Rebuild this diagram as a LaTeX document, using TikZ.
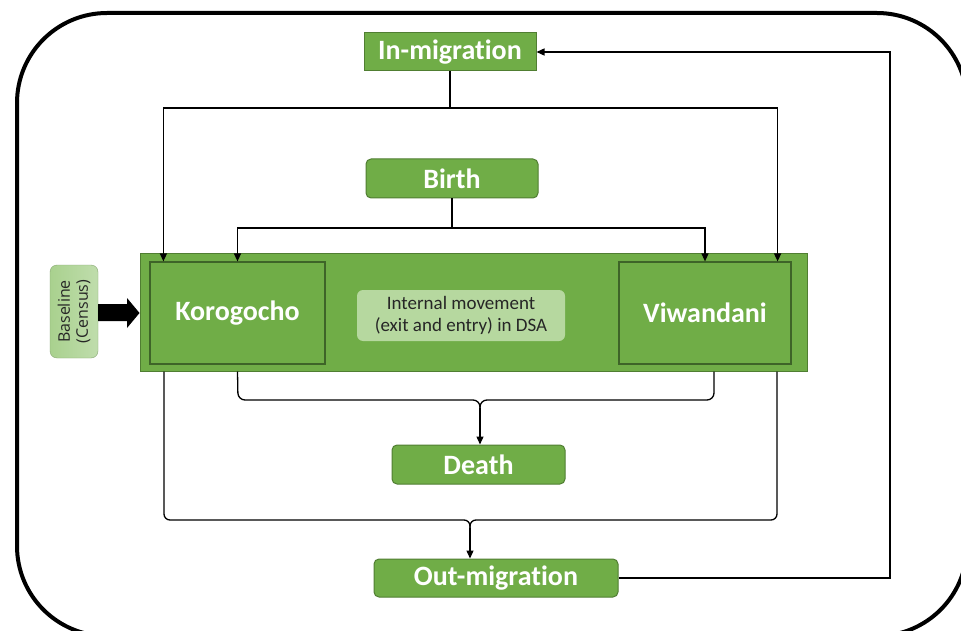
\documentclass[tikz,border=0pt]{standalone}
\usepackage{fontspec}
\setmainfont{Carlito}[Ligatures=NoCommon]
\newfontfamily\basefont{Open Sans}
\usetikzlibrary{arrows.meta,positioning,calc}
\definecolor{ogreen}{HTML}{70AD47}
\definecolor{dgreen}{HTML}{507E32}
\definecolor{ddgreen}{HTML}{3E6428}
\definecolor{lgreen}{HTML}{A9D18E}
\definecolor{llgreen}{HTML}{C5E0B4}
\tikzset{
  gbox/.style={draw=dgreen, line width=1pt, fill=ogreen, text=white, font=\bfseries\fontsize{28}{30}\selectfont, inner sep=0pt},
  rbox/.style={gbox, rounded corners=5pt},
  inbox/.style={draw=ddgreen, line width=1.2pt, fill=ogreen, text=white, font=\bfseries\fontsize{28}{30}\selectfont, inner sep=0pt},
  conn/.style={line width=1.3pt, black},
  arr/.style={conn, -{Triangle[width=7pt,length=8pt]}},
}
\begin{document}
\begin{tikzpicture}[x=1pt,y=-1pt]
\useasboundingbox (0,0) rectangle (961,631);
\clip (0,0) rectangle (961,631);
\fill[white] (0,0) rectangle (961,631);
% outer frame
\draw[line width=4pt, rounded corners=90pt] (17,13) rectangle (967,636);

% nodes
\node[gbox, minimum width=172pt, minimum height=38pt] (inm) at (450,52) {In-migration};
\node[rbox, minimum width=172pt, minimum height=39pt] (birth) at (452,178.5) {Birth};
\node[draw=dgreen, line width=1pt, fill=ogreen, minimum width=667pt, minimum height=118pt, inner sep=0pt] (dsa) at (473.5,312) {};
\node[inbox, minimum width=175pt, minimum height=102pt] (koro) at (237.5,313) {Korogocho};
\node[inbox, minimum width=172pt, minimum height=102pt] (viwa) at (705,313) {Viwandani};
\node[draw=none, fill=lgreen!85!white, text opacity=1, rounded corners=6pt, minimum width=208pt, minimum height=51pt, inner sep=0pt, align=center, text=black!85, font=\fontsize{19}{22}\selectfont] (intm) at (461,315.5) {Internal movement\\(exit and entry) in DSA};
\node[draw=lgreen!80!black, line width=0.4pt, left color=lgreen, right color=llgreen!80!lgreen, rounded corners=7pt, minimum width=48pt, minimum height=93pt, inner sep=0pt] (base) at (74,311.5) {};
\node[rotate=90, align=center, text=black!85, font=\basefont\fontsize{16}{18}\selectfont] (basetxt) at (base.center) {Baseline\\(Census)};
\node[rbox, minimum width=173pt, minimum height=39pt] (death) at (478.5,464.5) {Death};
\node[rbox, minimum width=244pt, minimum height=38pt] (outm) at (496,578) {Out-migration};

% baseline block arrow
\fill[black] (base.east |- 0,304) -- (127,304) -- (127,298) -- (dsa.west |- 0,313) -- (127,328) -- (127,321) -- (base.east |- 0,321) -- cycle;

% coordinates
\coordinate (jin) at (450,108);
\coordinate (jbirth) at (452,228);
\coordinate (jdeath) at (480,400);
\coordinate (jout) at (470,520);

% in-migration distribution
\draw[conn] (inm.south) -- (jin);
\draw[arr] (jin) -| ($(koro.north west)+(14,0)$);
\draw[arr] (jin) -| ($(viwa.north east)+(-14,0)$);
% birth distribution
\draw[conn] (birth.south) -- (jbirth);
\draw[arr] (jbirth) -| (koro.north);
\draw[arr] (jbirth) -| (viwa.north);
% death
\draw[conn, rounded corners=7pt] (dsa.south -| koro.south) -- (238,400) -- (jdeath) -- (480,410);
\draw[conn, rounded corners=7pt] (dsa.south -| 714,0) -- (714,400) -- (jdeath) -- (480,410);
\draw[arr] (480,408) -- (death.north -| jdeath);
% out-migration
\draw[conn, rounded corners=6pt] (dsa.south -| 164,0) -- (164,520) -- (jout) -- (470,530);
\draw[conn, rounded corners=6pt] (dsa.south -| 777,0) -- (777,520) -- (jout) -- (470,530);
\draw[arr] (470,528) -- (outm.north -| jout);
% out -> in loop
\draw[arr] (outm.east) -- (890,578) -- (890,52) -- (inm.east);
\end{tikzpicture}
\end{document}
